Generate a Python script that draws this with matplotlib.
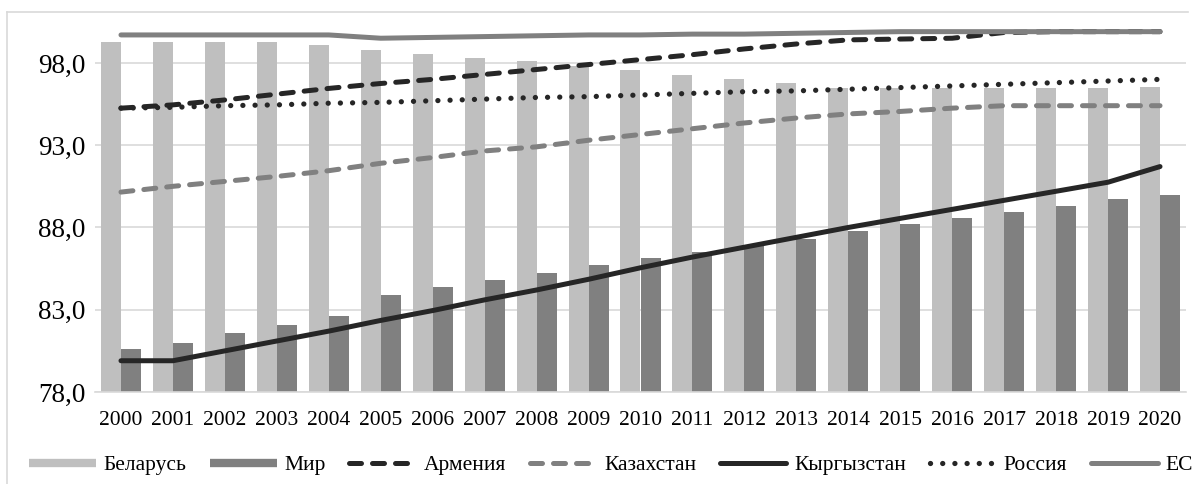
import numpy as np
import matplotlib.pyplot as plt
from matplotlib.lines import Line2D

plt.rcParams['font.family'] = ['Liberation Serif', 'DejaVu Serif']

years = [str(y) for y in range(2000, 2021)]

belarus = [99.3, 99.3, 99.3, 99.3, 99.1, 98.8, 98.55, 98.3, 98.1, 97.8, 97.55,
           97.25, 97.0, 96.75, 96.45, 96.45, 96.5, 96.5, 96.5, 96.5, 96.55]
mir = [80.6, 81.0, 81.6, 82.1, 82.6, 83.9, 84.4, 84.8, 85.25, 85.7, 86.15,
       86.5, 86.9, 87.3, 87.8, 88.2, 88.6, 88.95, 89.3, 89.7, 90.0]
armenia = [95.25, 95.45, 95.75, 96.1, 96.45, 96.75, 97.0, 97.3, 97.6, 97.9, 98.2,
           98.5, 98.85, 99.15, 99.4, 99.45, 99.5, 99.85, 99.9, 99.9, 99.9]
kazakhstan = [90.15, 90.5, 90.8, 91.1, 91.45, 91.9, 92.25, 92.65, 92.9, 93.3, 93.65,
              94.0, 94.35, 94.65, 94.9, 95.05, 95.25, 95.4, 95.4, 95.4, 95.4]
kyrgyzstan = [79.9, 79.9, 80.5, 81.1, 81.7, 82.35, 82.95, 83.6, 84.2, 84.85, 85.55,
              86.2, 86.8, 87.4, 88.0, 88.55, 89.1, 89.65, 90.2, 90.75, 91.7]
russia = [95.25, 95.3, 95.4, 95.45, 95.55, 95.6, 95.7, 95.8, 95.9, 95.95, 96.05,
          96.15, 96.25, 96.3, 96.4, 96.5, 96.6, 96.7, 96.8, 96.9, 97.0]
eu = [99.7, 99.7, 99.7, 99.7, 99.7, 99.5, 99.55, 99.6, 99.65, 99.7, 99.7,
      99.75, 99.75, 99.8, 99.85, 99.9, 99.9, 99.9, 99.9, 99.9, 99.9]

yticks = [78, 83, 88, 93, 98]

light = '#BFBFBF'
gray = '#808080'
dark = '#262626'

fig = plt.figure(figsize=(11.97, 4.84), dpi=100)
ax = fig.add_axes([95 / 1197, 92 / 484, (1186 - 95) / 1197, (392 - 30) / 484])

x = np.arange(len(years))
w = 0.385
ax.bar(x - w / 2, belarus, width=w, color=light, zorder=2)
ax.bar(x + w / 2, mir, width=w, color=gray, zorder=2)

lw = 3.6
dash = (2.4, 2.2)
dot = (0.01, 2.3)
common = dict(linewidth=lw, zorder=3, clip_on=False)
ax.plot(x, armenia, color=dark, dashes=dash, dash_capstyle='round', **common)
ax.plot(x, kazakhstan, color=gray, dashes=dash, dash_capstyle='round', **common)
ax.plot(x, kyrgyzstan, color=dark, solid_capstyle='round', **common)
ax.plot(x, russia, color=dark, linewidth=3.8, dashes=dot, dash_capstyle='round',
        zorder=3, clip_on=False)
ax.plot(x, eu, color=gray, solid_capstyle='round', **common)

ax.set_xlim(-0.5, len(years) - 0.5)
ax.set_ylim(78, 100)
ax.set_yticks(yticks)
ax.set_yticklabels([f'{v:.1f}'.replace('.', ',') for v in yticks], fontsize=19.5)
ax.set_xticks(x)
ax.set_xticklabels(years, fontsize=15.5)
ax.tick_params(axis='both', length=0)
ax.tick_params(axis='x', pad=14)
ax.tick_params(axis='y', pad=7)
ax.grid(axis='y', color='#D9D9D9', linewidth=1.2, zorder=0)
ax.set_axisbelow(True)
for s in ['top', 'right', 'left']:
    ax.spines[s].set_visible(False)
ax.spines['bottom'].set_color('#D9D9D9')
ax.spines['bottom'].set_linewidth(1.2)

# chart frame (top and left edges visible)
fig.add_artist(Line2D([7 / 1197, 7 / 1197], [0, 1 - 12 / 484], color='#D9D9D9', lw=1.2))
fig.add_artist(Line2D([7 / 1197, 1188 / 1197], [1 - 12 / 484, 1 - 12 / 484], color='#D9D9D9', lw=1.2))

handles = [
    Line2D([], [], color=light, linewidth=6, solid_capstyle='butt'),
    Line2D([], [], color=gray, linewidth=6, solid_capstyle='butt'),
    Line2D([], [], color=dark, linewidth=lw, dashes=dash, dash_capstyle='round'),
    Line2D([], [], color=gray, linewidth=lw, dashes=dash, dash_capstyle='round'),
    Line2D([], [], color=dark, linewidth=lw, solid_capstyle='round'),
    Line2D([], [], color=dark, linewidth=3.8, dashes=dot, dash_capstyle='round'),
    Line2D([], [], color=gray, linewidth=lw, solid_capstyle='round'),
]
labels = ['Беларусь', 'Мир', 'Армения', 'Казахстан', 'Кыргызстан', 'Россия', 'ЕС']
fig.legend(handles, labels, loc='center', bbox_to_anchor=(611 / 1197, 19 / 484),
           ncol=7, frameon=False, fontsize=15.5, handlelength=3.1, handletextpad=0.35,
           columnspacing=1.1, borderaxespad=0)

fig.savefig('out.png', dpi=100)
